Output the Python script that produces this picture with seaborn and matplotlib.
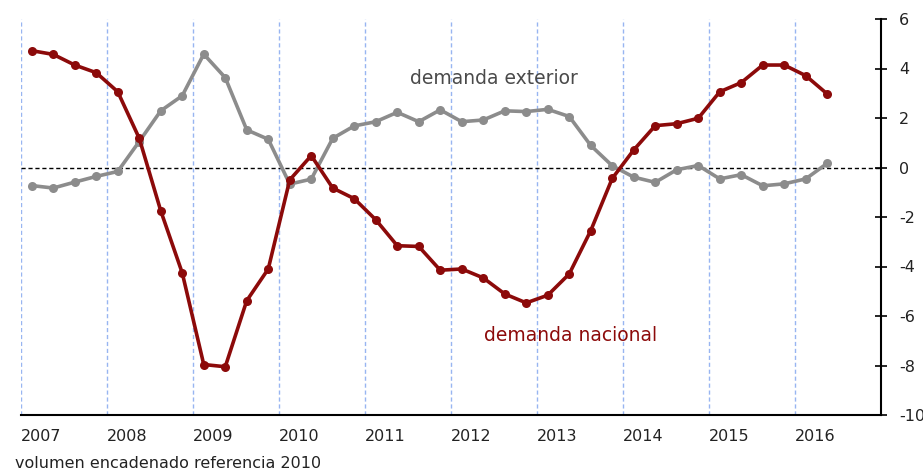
import numpy as np
import pandas as pd
import seaborn as sns
import matplotlib.pyplot as plt
from matplotlib.transforms import ScaledTranslation

# quarterly contributions to GDP growth, 2007Q1 - 2016Q2
years = [2007, 2008, 2009, 2010, 2011, 2012, 2013, 2014, 2015, 2016]
start_year = 2007
n_quarters = 38

demanda_nacional = [
    4.72, 4.57, 4.14, 3.83,
    3.06, 1.18, -1.75, -4.26,
    -7.96, -8.05, -5.38, -4.10,
    -0.50, 0.48, -0.83, -1.26,
    -2.11, -3.16, -3.19, -4.15,
    -4.10, -4.46, -5.11, -5.47,
    -5.16, -4.30, -2.55, -0.44,
    0.71, 1.69, 1.77, 1.99,
    3.06, 3.43, 4.14, 4.14,
    3.71, 2.97,
]
demanda_exterior = [
    -0.73, -0.83, -0.59, -0.36,
    -0.16, 1.05, 2.29, 2.90,
    4.58, 3.63, 1.52, 1.14,
    -0.67, -0.47, 1.18, 1.68,
    1.85, 2.23, 1.85, 2.33,
    1.85, 1.92, 2.29, 2.26,
    2.35, 2.06, 0.89, 0.07,
    -0.39, -0.60, -0.09, 0.08,
    -0.46, -0.29, -0.74, -0.66,
    -0.46, 0.17,
]
y_ticks = [6, 4, 2, 0, -2, -4, -6, -8, -10]

col_nac = '#8c0a0a'
col_ext = '#8c8c8c'

# place each quarter at its midpoint on a year axis
t = start_year + (np.arange(n_quarters) + 0.5) / 4
df = pd.DataFrame({
    't': np.concatenate([t, t]),
    'valor': demanda_nacional + demanda_exterior,
    'serie': ['nacional'] * n_quarters + ['exterior'] * n_quarters,
})

sns.set_style('white')
plt.rcParams['font.family'] = ['DejaVu Sans']
plt.rcParams['axes.unicode_minus'] = False

fig = plt.figure(figsize=(9.23, 4.70), dpi=100)
ax = fig.add_axes([21 / 923, 1 - 415 / 470, 860 / 923, 396 / 470])

sns.lineplot(data=df, x='t', y='valor', hue='serie',
             palette={'nacional': col_nac, 'exterior': col_ext},
             hue_order=['exterior', 'nacional'],
             marker='o', markersize=6.5, markeredgewidth=0, linewidth=2.6,
             legend=False, ax=ax)

ax.axhline(0, color='black', linestyle=(0, (3, 2)), linewidth=1, zorder=1)

ax.set_xlim(2007, 2017)
ax.set_ylim(-10, 6)
ax.set_xticks(years)
ax.set_xticklabels([str(y) for y in years], ha='left')
ax.set_yticks(y_ticks)
ax.yaxis.tick_right()
ax.set_xlabel('')
ax.set_ylabel('')

# year labels start a little left of their tick
shift = ScaledTranslation(-9 / 100, 0, fig.dpi_scale_trans)
for lab in ax.get_xticklabels():
    lab.set_transform(lab.get_transform() + shift)

for y in years:
    ax.axvline(y, color='#7ea3ee', linestyle=(0, (3, 2)), linewidth=1.0,
               alpha=0.8, zorder=0)

for side in ['top', 'left']:
    ax.spines[side].set_visible(False)
for side in ['bottom', 'right']:
    ax.spines[side].set_color('black')
    ax.spines[side].set_linewidth(1.5)

ax.tick_params(axis='x', direction='inout', length=8, width=1.2, pad=6,
               labelsize=11.5, colors='black', labelcolor='#222222')
ax.tick_params(axis='y', direction='inout', length=8, width=1.2, pad=9,
               labelsize=11.5, colors='black', labelcolor='#222222',
               left=False, right=True)

ax.text(2011.52, 3.6, 'demanda exterior', color='#4a4a4a', fontsize=13.5, va='center')
ax.text(2012.38, -6.8, 'demanda nacional', color=col_nac, fontsize=13.5, va='center')

fig.text(15 / 923, 1 - 463 / 470, 'volumen encadenado referencia 2010',
         fontsize=11.5, color='#222222', va='center')

fig.savefig('out.png', dpi=100)
